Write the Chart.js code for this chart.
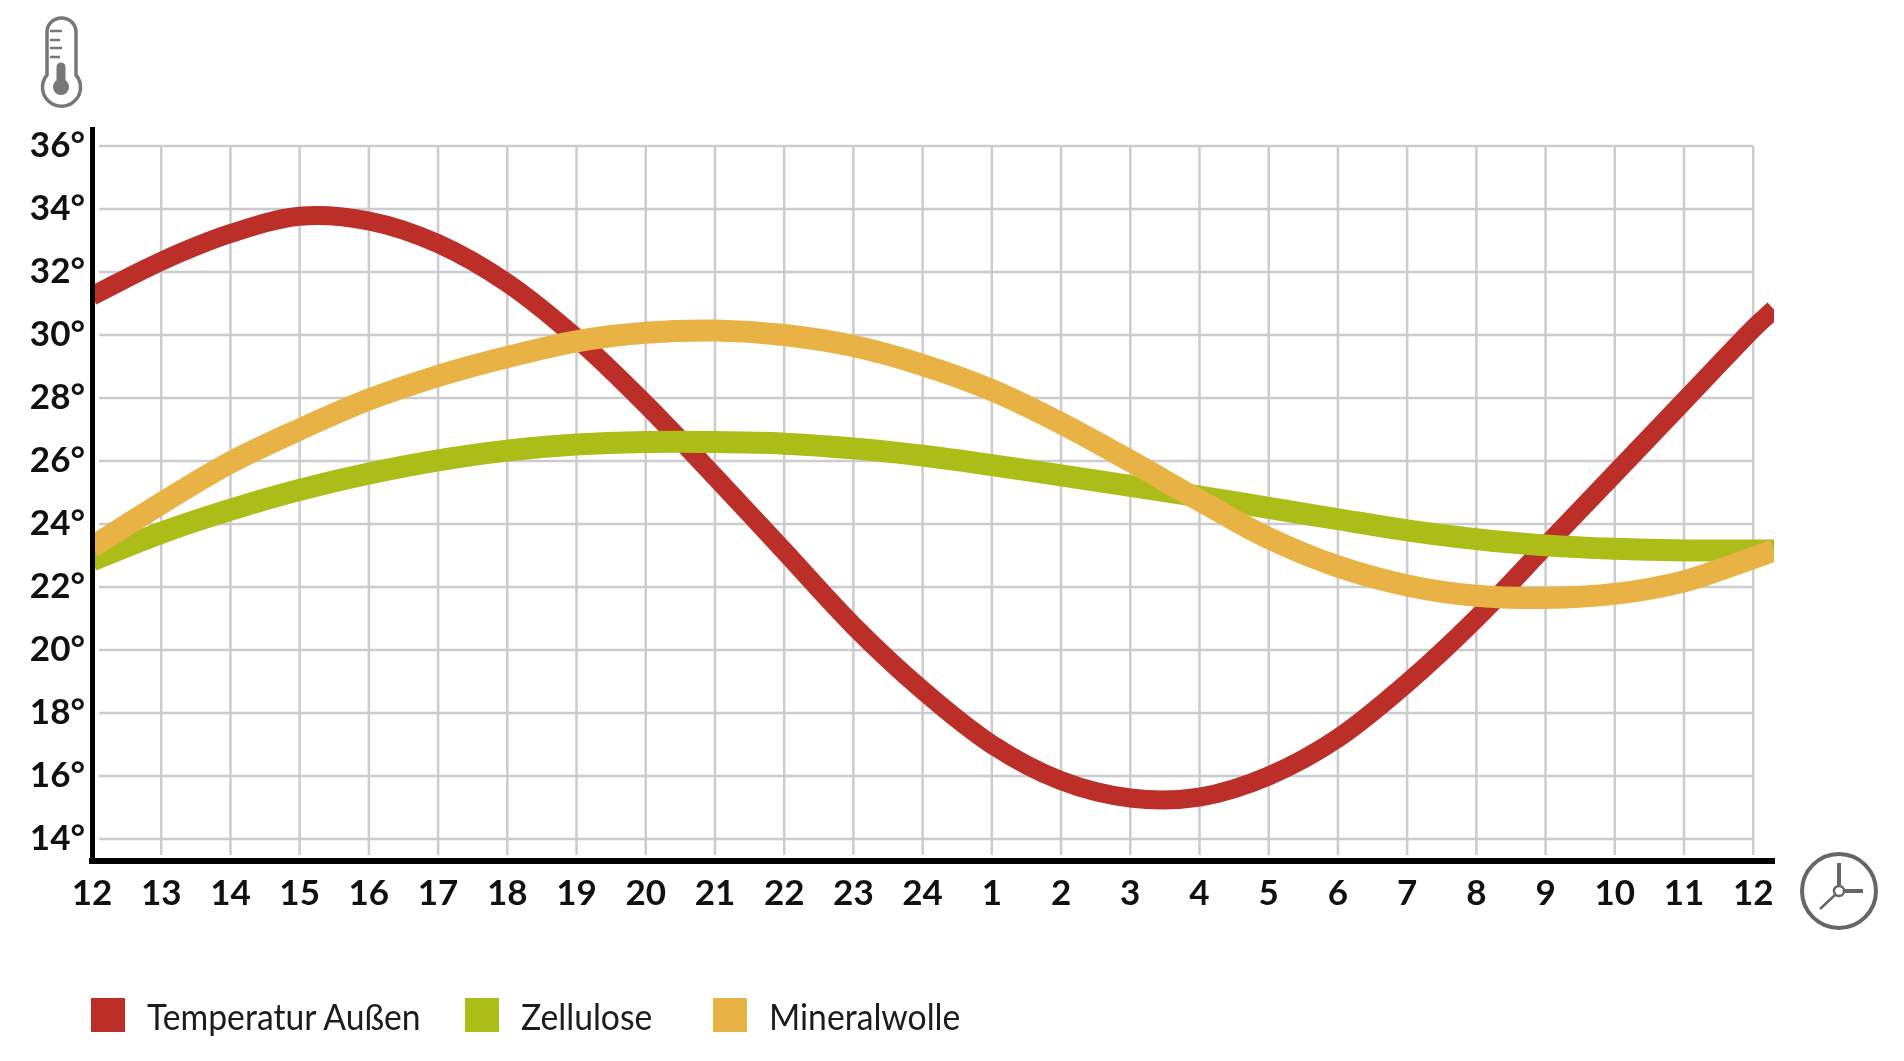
<!DOCTYPE html>
<html>
<head>
<meta charset="utf-8">
<title>Temperaturverlauf</title>
<script src="https://cdn.jsdelivr.net/npm/chart.js@4"></script>
<style>
  html, body { margin: 0; padding: 0; background: #fff; overflow: hidden; }
  #wrap { position: relative; width: 1904px; height: 1061px; }
  #icons { position: absolute; left: 0; top: 0; pointer-events: none; }
  #legend { position: absolute; left: 91px; top: 998px; height: 34px; }
  .item { position: absolute; top: 0; white-space: nowrap; }
  .swatch { position: absolute; left: 0; top: 0; width: 34px; height: 34px; }
  .name { position: absolute; left: 56px; top: -2px; font: 37px/40px Lato, "Noto Sans", sans-serif; color: #1c1c1c; transform-origin: left center; transform: scaleX(0.91); }
</style>
</head>
<body>
<div id="wrap">
  <canvas id="chart" width="1904" height="1061"></canvas>
  <svg id="icons" width="1904" height="1061" fill="none" stroke="#777" stroke-width="3.5">
    <path d="M47 75V32a14.5 14 0 0 1 29 0V75a19 19 0 1 1-29 0Z"/>
    <path d="M50 31h12M50 40h10M50 48h12M50 57h10" stroke-width="2.5"/>
    <path d="M61 67V84" stroke-width="9" stroke-linecap="round"/>
    <circle cx="61" cy="87" r="8" fill="#777" stroke="none"/>
    <g stroke="#666">
      <circle cx="1839" cy="891" r="37" stroke-width="4"/>
      <path d="M1839 863V885M1845 891H1863" stroke-width="4"/>
      <path d="M1835 895L1820 909" stroke-width="2.5"/>
      <circle cx="1839" cy="891" r="5" stroke-width="2.5"/>
    </g>
  </svg>
  <div id="legend"></div>
</div>
<script>
const hours = [0, 1, 2, 3, 4, 5, 6, 7, 8, 9, 10, 11, 12, 13, 14, 15, 16, 17, 18, 19, 20, 21, 22, 23, 24, 24.3];
const hourLabels = ['12', '13', '14', '15', '16', '17', '18', '19', '20', '21', '22', '23', '24', '1', '2', '3', '4', '5', '6', '7', '8', '9', '10', '11', '12'];
const tempTicks = [14, 16, 18, 20, 22, 24, 26, 28, 30, 32, 34, 36];

const seriesNames = ['Temperatur Außen', 'Zellulose', 'Mineralwolle'];
const seriesColors = ['#bb2f28', '#abbd16', '#e9b244'];
const seriesWidths = [19, 22, 22];

const aussen = [31.24, 32.34, 33.22, 33.77, 33.62, 32.9, 31.65, 29.9, 27.8, 25.5, 23.14, 20.77, 18.72, 17.0, 15.85, 15.3, 15.33, 16.0, 17.2, 18.95, 21.0, 23.3, 25.6, 27.9, 30.2, 30.81];
const zellulose = [22.85, 23.72, 24.45, 25.08, 25.6, 26.02, 26.33, 26.52, 26.6, 26.6, 26.55, 26.4, 26.17, 25.87, 25.54, 25.21, 24.87, 24.51, 24.15, 23.8, 23.52, 23.32, 23.21, 23.16, 23.16, 23.16];
const mineralwolle = [23.27, 24.65, 25.95, 27.0, 27.95, 28.7, 29.3, 29.8, 30.07, 30.14, 30.0, 29.65, 29.05, 28.25, 27.2, 26.0, 24.75, 23.55, 22.65, 22.05, 21.72, 21.65, 21.78, 22.18, 22.92, 23.16];

function toPoints(values) {
  return values.map((v, i) => ({ x: hours[i], y: v }));
}

// grid stops at the last tick, the black axes run on past it
const shortGrid = {
  id: 'shortGrid',
  beforeDatasetsDraw(chart) {
    const { ctx, scales: { x, y } } = chart;
    const top = y.getPixelForValue(36);
    const right = x.getPixelForValue(24);
    ctx.save();
    ctx.strokeStyle = '#cbcbd0';
    ctx.lineWidth = 2.5;
    y.ticks.forEach(t => {
      const py = y.getPixelForValue(t.value);
      ctx.beginPath();
      ctx.moveTo(x.left + 7, py);
      ctx.lineTo(right, py);
      ctx.stroke();
    });
    x.ticks.forEach(t => {
      if (t.value === 0) return;
      const px = x.getPixelForValue(t.value);
      ctx.beginPath();
      ctx.moveTo(px, top);
      ctx.lineTo(px, y.bottom - 6);
      ctx.stroke();
    });
    ctx.restore();
  }
};

const tickFont = { family: 'Lato, "Noto Sans", sans-serif', size: 35, weight: 'bold' };

new Chart(document.getElementById('chart'), {
  type: 'line',
  data: {
    datasets: [aussen, zellulose, mineralwolle].map((values, i) => ({
      label: seriesNames[i],
      data: toPoints(values),
      borderColor: seriesColors[i],
      borderWidth: seriesWidths[i],
      pointRadius: 0,
      tension: 0.33,
      clip: 0,
      order: 3 - i,
    })),
  },
  options: {
    responsive: false,
    animation: false,
    layout: { padding: { left: 0, top: 129, right: 130, bottom: 100 } },
    plugins: { legend: { display: false }, tooltip: { enabled: false } },
    scales: {
      x: {
        type: 'linear',
        min: 0,
        max: 24.3,
        afterBuildTicks: axis => { axis.ticks = hourLabels.map((l, i) => ({ value: i })); },
        grid: { display: false, drawTicks: false },
        border: { color: '#000', width: 6, z: 1 },
        ticks: {
          autoSkip: false,
          maxRotation: 0,
          padding: 12,
          color: '#111',
          font: tickFont,
          callback: value => hourLabels[value],
        },
        afterFit: axis => { axis.height = 100; },
      },
      y: {
        min: 13.3,
        max: 36.54,
        afterBuildTicks: axis => { axis.ticks = tempTicks.map(v => ({ value: v })); },
        grid: { display: false, drawTicks: false },
        border: { color: '#000', width: 5, z: 1 },
        ticks: {
          autoSkip: false,
          padding: 7,
          color: '#111',
          font: tickFont,
          callback: value => value + '°',
        },
        afterFit: axis => { axis.width = 92; },
      },
    },
  },
  plugins: [shortGrid],
});

// legend as plain html so the wide gaps can match
const legendSteps = [0, 374, 622];
const legend = document.getElementById('legend');
seriesNames.forEach((name, i) => {
  const item = document.createElement('div');
  item.className = 'item';
  item.style.left = legendSteps[i] + 'px';
  item.innerHTML = `<div class="swatch" style="background:${seriesColors[i]}"></div><div class="name">${name}</div>`;
  legend.appendChild(item);
});
</script>
</body>
</html>
